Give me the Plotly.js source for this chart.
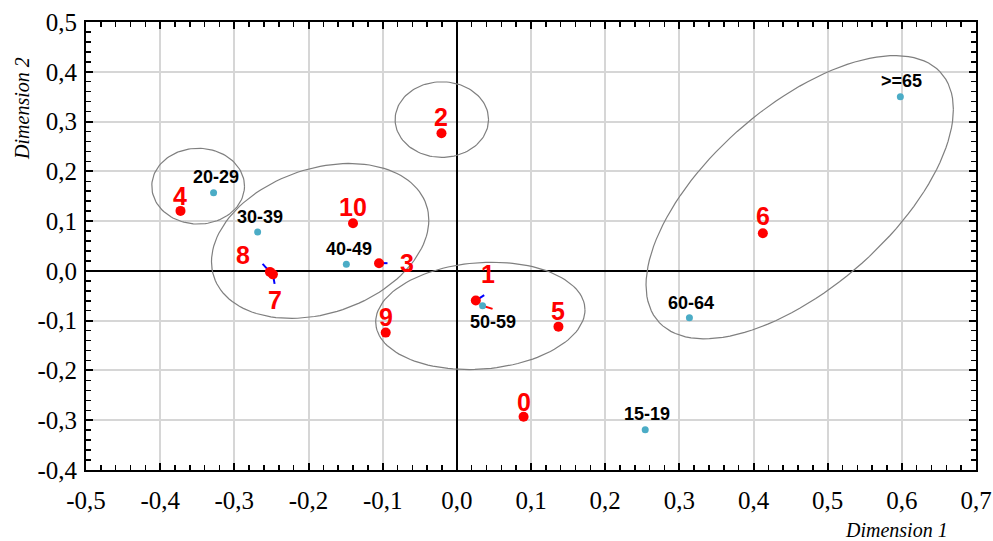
<!DOCTYPE html>
<html>
<head>
<meta charset="utf-8">
<script src="https://cdn.plot.ly/plotly-3.0.1.min.js"></script>
<style>
  html, body { margin: 0; padding: 0; background: #fff; }
  #chart { width: 993px; height: 541px; }
</style>
</head>
<body>
<div id="chart"></div>
<script>
// red points (numbered categories)
const redLabels = ['0', '1', '2', '3', '4', '5', '6', '7', '8', '9', '10'];
const redX = [0.090, 0.0256, -0.0207, -0.1049, -0.3726, 0.137, 0.4126, -0.248, -0.252, -0.0959, -0.140];
const redY = [-0.293, -0.0596, 0.2765, 0.0155, 0.1205, -0.112, 0.0757, -0.007, -0.002, -0.124, 0.0958];

// teal points (age groups)
const ageLabels = ['15-19', '20-29', '30-39', '40-49', '50-59', '60-64', '>=65'];
const ageX = [0.254, -0.328, -0.2686, -0.149, 0.0347, 0.3136, 0.598];
const ageY = [-0.319, 0.157, 0.078, 0.0134, -0.070, -0.094, 0.350];

// short leader lines next to overlapping points
const leadFromX = [-0.252, -0.248, 0.0256, -0.1049, 0.0347];
const leadFromY = [-0.002, -0.007, -0.0596, 0.0155, -0.070];
const leadToX = [-0.2619, -0.2457, 0.0369, -0.0935, 0.0482];
const leadToY = [0.014, -0.026, -0.0488, 0.0155, -0.0763];
const leadColor = ['#0000ff', '#0000ff', '#0000ff', '#0000ff', '#ff0000'];

// ellipses: centre, half extent in x and y, correlation
const ellCx = [-0.3488, -0.0202, -0.1843, 0.0317, 0.4623];
const ellCy = [0.1702, 0.304, 0.0602, -0.0904, 0.148];
const ellRx = [0.0625, 0.063, 0.1465, 0.1411, 0.2072];
const ellRy = [0.0761, 0.0759, 0.1556, 0.1078, 0.2845];
const ellRho = [0, 0, 0.268, 0.112, 0.62];

// tick labels
const xTicks = [-0.5, -0.4, -0.3, -0.2, -0.1, 0, 0.1, 0.2, 0.3, 0.4, 0.5, 0.6, 0.7];
const xTickText = ['-0,5', '-0,4', '-0,3', '-0,2', '-0,1', '0,0', '0,1', '0,2', '0,3', '0,4', '0,5', '0,6', '0,7'];
const yTicks = [-0.4, -0.3, -0.2, -0.1, 0, 0.1, 0.2, 0.3, 0.4, 0.5];
const yTickText = ['-0,4', '-0,3', '-0,2', '-0,1', '0,0', '0,1', '0,2', '0,3', '0,4', '0,5'];

// label offsets in pixels (style only)
const redShift = [[0, 15], [12, 27], [0, 16], [28, 0], [0, 15], [0, 16], [0, 17], [2, -26], [-27, 17], [0, 16], [0, 16]];
const ageShift = [[2, 16], [2, 16], [2, 15], [3, 15], [10, -16], [2, 15], [1, 16]];

const SERIF = 'Liberation Serif';


function ellipsePath(cx, cy, rx, ry, rho) {
    let xs = [], ys = [];
    const k = Math.sqrt(1 - rho * rho);
    for (let i = 0; i <= 120; i++) {
        const t = 2 * Math.PI * i / 120;
        xs.push(cx + rx * Math.cos(t));
        ys.push(cy + ry * (rho * Math.cos(t) + k * Math.sin(t)));
    }
    return [xs, ys];
}


function minorTicks(lo, hi) {
    // every 0.02 between the major ticks
    let arr = [];
    for (let i = Math.round(lo * 50); i <= Math.round(hi * 50); i++) {
        if (i % 5 !== 0) arr.push(i / 50);
    }
    return arr;
}


function drawChart(id) {
    let data = [];

    for (let i = 0; i < ellCx.length; i++) {
        const p = ellipsePath(ellCx[i], ellCy[i], ellRx[i], ellRy[i], ellRho[i]);
        data.push({
            x: p[0], y: p[1],
            type: 'scatter', mode: 'lines',
            line: {color: '#7f7f7f', width: 1.2},
            hoverinfo: 'skip', showlegend: false,
        });
    }

    for (let i = 0; i < leadFromX.length; i++) {
        data.push({
            x: [leadFromX[i], leadToX[i]], y: [leadFromY[i], leadToY[i]],
            type: 'scatter', mode: 'lines',
            line: {color: leadColor[i], width: 2},
            hoverinfo: 'skip', showlegend: false,
        });
    }

    data.push({
        x: redX, y: redY, text: redLabels,
        type: 'scatter', mode: 'markers',
        marker: {color: '#ff0000', size: 10},
        showlegend: false,
    });

    data.push({
        x: ageX, y: ageY, text: ageLabels,
        type: 'scatter', mode: 'markers',
        marker: {color: '#4bacc6', size: 7},
        showlegend: false,
    });

    let annotations = [];
    redLabels.forEach(function(t, i) {
        annotations.push({
            x: redX[i], y: redY[i], text: '<b>' + t + '</b>', showarrow: false,
            xshift: redShift[i][0], yshift: redShift[i][1],
            xanchor: 'center', yanchor: 'middle',
            font: {family: 'Liberation Sans', size: 25, color: '#ff0000'},
        });
    });
    ageLabels.forEach(function(t, i) {
        annotations.push({
            x: ageX[i], y: ageY[i], text: '<b>' + t + '</b>', showarrow: false,
            xshift: ageShift[i][0], yshift: ageShift[i][1],
            xanchor: 'center', yanchor: 'middle',
            font: {family: 'Liberation Sans', size: 18, color: '#000000'},
        });
    });

    annotations.push({
        xref: 'paper', yref: 'paper', x: 0.911, y: -0.134,
        xanchor: 'center', yanchor: 'middle', showarrow: false,
        text: '<i>Dimension 1</i>',
        font: {family: SERIF, size: 20, color: '#000'},
    });
    annotations.push({
        xref: 'paper', yref: 'paper', x: -0.072, y: 0.808,
        xanchor: 'center', yanchor: 'middle', showarrow: false, textangle: -90,
        text: '<i>Dimension 2</i>',
        font: {family: SERIF, size: 20, color: '#000'},
    });

    let layout = {
        width: 993, height: 541,
        margin: {l: 86, r: 17, t: 22, b: 71},
        paper_bgcolor: '#fff', plot_bgcolor: '#fff',
        showlegend: false,
        xaxis: {
            range: [-0.5, 0.7],
            showline: true, mirror: 'allticks', linecolor: '#000', linewidth: 2,
            showgrid: true, gridcolor: '#d6d6d6', gridwidth: 2,
            zeroline: true, zerolinecolor: '#000', zerolinewidth: 2,
            ticks: 'inside', ticklen: 7, tickwidth: 2, tickcolor: '#000',
            tickmode: 'array', tickvals: xTicks, ticktext: xTickText,
            tickfont: {family: SERIF, size: 25, color: '#000'},
            ticklabelstandoff: 7,
            minor: {tickmode: 'array', tickvals: minorTicks(-0.5, 0.7), ticks: 'inside', ticklen: 5, tickcolor: '#000', tickwidth: 1.5, showgrid: false},
        },
        yaxis: {
            range: [-0.4, 0.5],
            showline: true, mirror: 'allticks', linecolor: '#000', linewidth: 2,
            showgrid: true, gridcolor: '#d6d6d6', gridwidth: 2,
            zeroline: true, zerolinecolor: '#000', zerolinewidth: 2,
            ticks: 'inside', ticklen: 7, tickwidth: 2, tickcolor: '#000',
            tickmode: 'array', tickvals: yTicks, ticktext: yTickText,
            tickfont: {family: SERIF, size: 25, color: '#000'},
            ticklabelstandoff: 2,
            minor: {tickmode: 'array', tickvals: minorTicks(-0.4, 0.5), ticks: 'inside', ticklen: 5, tickcolor: '#000', tickwidth: 1.5, showgrid: false},
        },
        annotations: annotations,
    };

    Plotly.newPlot(id, data, layout, {staticPlot: true});
}


window.addEventListener('load', function () {
    drawChart('chart');
});
</script>
</body>
</html>
